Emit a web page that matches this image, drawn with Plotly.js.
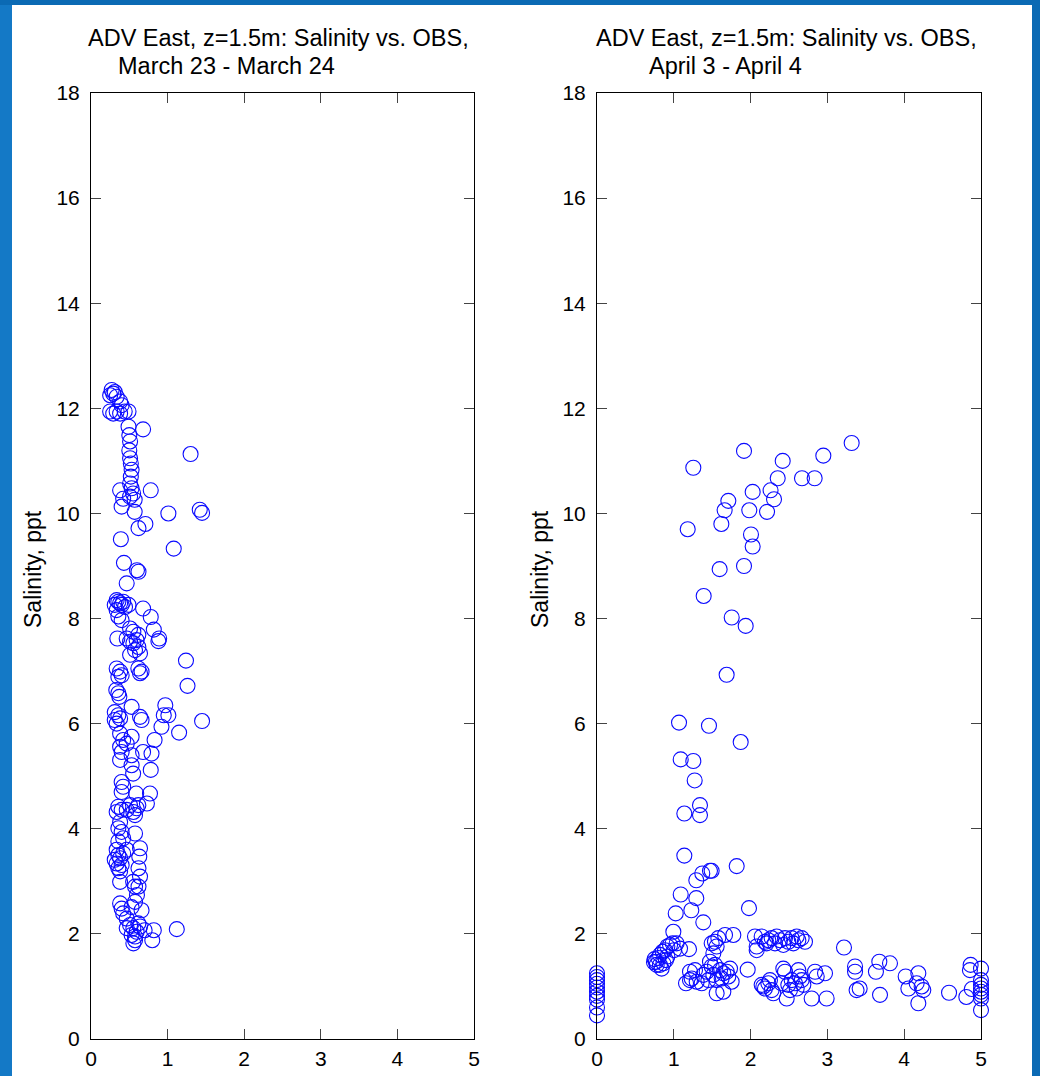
<!DOCTYPE html>
<html>
<head>
<meta charset="utf-8">
<script src="https://cdn.plot.ly/plotly-3.0.1.min.js"></script>
<style>html,body{margin:0;padding:0;background:#0b6ab4;}#chart{width:1040px;height:1076px;}</style>
</head>
<body>
<div id="chart"></div>
<script>
// ---- Data: March 23 - March 24 (OBS, Salinity ppt) ----
const marchX = [0.27,0.29,0.25,0.31,0.335,0.38,0.40,
0.25,0.29,0.335,0.38,0.44,0.49,
0.49,0.68,
0.50,0.51,0.50,0.51,0.52,0.53,0.52,0.51,0.53,0.55,0.51,0.57,0.57,
0.38,0.42,0.40,0.78,
1.30,1.01,1.42,1.45,
0.62,0.71,0.39,1.08,
0.43,0.60,0.62,
0.466,
0.335,0.357,0.38,0.40,0.42,0.444,0.49,0.31,0.335,
0.68,0.78,0.82,0.89,0.88,
0.357,0.40,
0.344,0.466,0.51,0.553,0.596,0.618,0.64,0.51,0.575,0.51,0.553,0.618,
1.24,1.26,
0.335,0.38,0.40,0.357,0.618,0.64,0.66,
0.33,0.357,0.37,
0.53,0.97,0.95,1.01,0.92,1.15,1.45,
0.31,0.357,0.38,0.31,0.335,
0.64,0.66,
0.38,0.42,0.53,0.466,0.38,0.83,0.68,0.79,0.40,0.53,
0.38,0.53,0.55,0.78,
0.40,0.42,0.40,0.59,0.77,0.73,
0.357,0.40,0.466,0.553,0.596,0.618,0.51,0.575,0.335,
0.357,0.40,0.42,0.357,0.575,0.38,
0.64,0.335,0.357,0.38,0.31,0.40,0.357,0.38,0.335,0.42,0.466,
0.63,0.62,0.64,0.62,0.60,
0.38,0.55,0.575,
0.38,0.40,0.42,0.53,0.575,0.66,0.466,
0.51,0.553,0.596,0.53,0.575,0.618,0.64,0.466,0.70,0.575,0.553,
0.82,0.80,1.12];
const marchY = [12.35,12.28,12.25,12.31,12.22,12.13,12.06,
11.94,11.90,11.94,11.90,11.94,11.94,
11.65,11.60,
11.49,11.37,11.20,11.05,10.95,10.83,10.70,10.57,10.48,10.38,10.32,10.26,10.03,
10.44,10.28,10.13,10.44,
11.13,10.00,10.07,10.01,
9.72,9.80,9.51,9.33,
9.06,8.92,8.89,
8.67,
8.35,8.32,8.29,8.26,8.32,8.22,8.26,8.26,8.16,
8.19,8.03,7.79,7.62,7.57,
8.04,7.97,
7.62,7.62,7.56,7.53,7.59,7.46,7.34,7.31,7.40,7.81,7.75,7.69,
7.20,6.72,
7.05,6.99,6.92,6.89,7.05,6.96,6.99,
6.64,6.58,6.51,
6.32,6.35,6.16,6.16,5.94,5.83,6.05,
6.22,6.16,6.10,6.07,6.00,
6.13,6.07,
5.81,5.69,5.75,5.62,5.56,5.69,5.46,5.43,5.46,5.40,
5.31,5.21,5.05,5.12,
4.89,4.80,4.70,4.67,4.67,4.48,
4.42,4.36,4.36,4.32,4.39,4.45,4.45,4.26,4.32,
4.01,3.94,3.82,3.76,3.91,4.13,
3.63,3.60,3.50,3.44,3.41,3.31,3.25,3.19,3.34,3.53,3.60,
3.47,3.25,3.09,2.90,2.74,
2.99,2.99,2.90,
2.58,2.48,2.39,2.51,2.61,2.45,2.29,
2.17,2.11,2.04,1.98,1.95,2.20,2.14,2.11,2.07,1.88,1.82,
2.07,1.88,2.09];

// ---- Data: April 3 - April 4 ----
const aprilX = [1.254,1.914,2.418,3.316,2.947,2.353,2.669,2.834,2.027,2.26,2.305,1.71,1.662,1.983,2.214,1.619,1.181,2.005,2.027,1.597,1.914,1.389,1.754,1.936,1.688,
1.068,1.458,1.871,1.09,1.254,1.272,1.341,1.137,1.341,1.137,1.819,1.371,1.471,1.493,1.293,1.09,1.293,1.979,1.025,1.228,1.384,
0.994,1.198,1.037,
0.768,0.799,0.820,0.855,0.885,0.916,0.951,0.985,0.820,0.864,0.777,0.898,0.842,0.916,1.003,1.081,0.742,0.75,
1.211,1.276,1.233,1.298,1.385,1.428,1.450,1.493,1.515,1.558,1.558,1.602,1.645,1.645,1.688,1.710,1.753,1.732,1.211,1.363,1.471,1.536,1.623,1.159,
1.493,1.536,1.558,1.515,1.667,1.775,1.580,
1.962,
2.057,2.079,2.079,2.144,2.187,2.231,2.274,2.318,2.339,2.383,2.426,2.448,2.491,2.535,2.556,2.600,2.622,2.665,2.708,2.209,
2.144,2.187,2.231,2.274,2.296,2.166,2.252,2.426,2.448,2.404,2.470,2.491,2.535,2.513,2.578,2.600,2.622,2.643,2.665,2.687,2.795,2.839,2.861,2.969,2.990,
3.216,3.36,3.36,3.38,3.42,3.632,3.676,3.685,3.815,
4.019,4.054,4.162,4.184,4.184,4.227,4.249,4.584,4.809,
4.865,4.856,4.88,
5,5,5,5,5,5,5,5,
0,0,0,0,0,0,0,0,0,0];
const aprilY = [10.87,11.19,11.00,11.34,11.10,10.67,10.67,10.67,10.41,10.44,10.27,10.24,10.06,10.06,10.03,9.80,9.70,9.60,9.37,8.94,9.00,8.43,8.02,7.86,6.93,
6.02,5.96,5.65,5.32,5.29,4.92,4.45,4.29,4.26,3.49,3.29,3.15,3.20,3.20,3.02,2.75,2.68,2.49,2.39,2.45,2.22,
2.04,1.71,1.82,
1.47,1.54,1.60,1.66,1.69,1.76,1.79,1.82,1.41,1.44,1.41,1.50,1.34,1.57,1.69,1.72,1.46,1.52,
1.28,1.31,1.15,1.09,1.22,1.28,1.12,1.38,1.22,1.12,0.87,1.31,0.90,1.25,1.28,1.19,1.09,1.34,1.12,1.06,1.47,1.41,1.15,1.06,
1.82,1.85,1.76,1.63,1.98,1.98,1.92,
1.32,
1.95,1.69,1.76,1.95,1.85,1.88,1.92,1.82,1.95,1.88,1.79,1.92,1.85,1.92,1.82,1.95,1.88,1.92,1.85,1.82,
1.03,0.96,1.06,0.93,0.87,1.00,1.12,1.34,1.28,1.06,0.77,1.03,1.12,0.93,1.06,0.96,1.31,1.19,1.12,1.03,0.77,1.28,1.19,1.25,0.77,
1.74,1.38,1.28,0.93,0.96,1.28,1.47,0.84,1.44,
1.19,0.96,1.06,1.25,0.68,1.00,0.93,0.88,0.80,
1.41,1.31,0.95,
1.34,1.12,1.03,0.96,0.90,0.84,0.77,0.55,
1.25,1.18,1.12,1.05,0.98,0.90,0.82,0.75,0.60,0.45];

const xTickVals = [0,1,2,3,4,5];
const yTickVals = [0,2,4,6,8,10,12,14,16,18];
const titleLine1 = "ADV East, z=1.5m: Salinity vs. OBS,";
const titleMarch = "March 23 - March 24";
const titleApril = "April 3 - April 4";
const yLabel = "Salinity, ppt";

const W = 1040, H = 1076;
const px = v => v / W;
const py = v => 1 - v / H;
const FONT = "Liberation Sans, Arial, Helvetica, sans-serif";

const marker = {symbol: 'circle-open', size: 15, color: 'rgb(10,10,255)', line: {width: 1.1, color: 'rgb(10,10,255)'}};

const traces = [
  {x: marchX, y: marchY, type: 'scatter', mode: 'markers', marker: marker, xaxis: 'x', yaxis: 'y', cliponaxis: false, hoverinfo: 'x+y'},
  {x: aprilX, y: aprilY, type: 'scatter', mode: 'markers', marker: marker, xaxis: 'x2', yaxis: 'y2', cliponaxis: false, hoverinfo: 'x+y'}
];

function xa(d0, d1, anchor) {
  return {domain: [px(d0), px(d1)], anchor: anchor, range: [0, 5], tickvals: xTickVals,
    ticks: 'inside', ticklen: 10, tickwidth: 1, tickcolor: '#444', showline: true, linecolor: '#000', linewidth: 1,
    mirror: 'ticks', showgrid: false, zeroline: false, fixedrange: true, ticklabelstandoff: 1,
    tickfont: {family: FONT, size: 21, color: '#000'}};
}
function ya(anchor) {
  return {domain: [py(1039), py(93)], anchor: anchor, range: [0, 18], tickvals: yTickVals,
    ticks: 'inside', ticklen: 10, tickwidth: 1, tickcolor: '#444', showline: true, linecolor: '#000', linewidth: 1,
    mirror: 'ticks', showgrid: false, zeroline: false, fixedrange: true, ticklabelstandoff: 6,
    tickfont: {family: FONT, size: 21, color: '#000'}};
}

const ann = (text, x, y, extra) => Object.assign({text: text, xref: 'paper', yref: 'paper', x: px(x), y: py(y),
  xanchor: 'left', yanchor: 'middle', showarrow: false, font: {family: FONT, size: 23.5, color: '#000'}}, extra || {});

const layout = {
  width: W, height: H,
  margin: {l: 0, r: 0, t: 0, b: 0},
  paper_bgcolor: '#0b6ab4', plot_bgcolor: 'rgba(0,0,0,0)',
  showlegend: false,
  xaxis: xa(91, 474, 'y'),
  yaxis: ya('x'),
  xaxis2: xa(597, 981, 'y2'),
  yaxis2: ya('x2'),
  shapes: [
    {type: 'rect', xref: 'paper', yref: 'paper', x0: 0, x1: px(12), y0: 0, y1: py(5), fillcolor: '#1479c6', line: {width: 0}, layer: 'below'},
    {type: 'rect', xref: 'paper', yref: 'paper', x0: px(12), x1: px(1032), y0: 0, y1: py(5), fillcolor: '#ffffff', line: {width: 0}, layer: 'below'}
  ],
  annotations: [
    ann(titleLine1, 86, 38),
    ann(titleMarch, 116, 66),
    ann(titleLine1, 594, 38),
    ann(titleApril, 647, 66),
    ann(yLabel, 33, 569, {xanchor: 'center', textangle: -90, font: {family: FONT, size: 23, color: '#000'}}),
    ann(yLabel, 540, 569, {xanchor: 'center', textangle: -90, font: {family: FONT, size: 23, color: '#000'}})
  ]
};

Plotly.newPlot('chart', traces, layout, {displayModeBar: false, staticPlot: true});
</script>
</body>
</html>
